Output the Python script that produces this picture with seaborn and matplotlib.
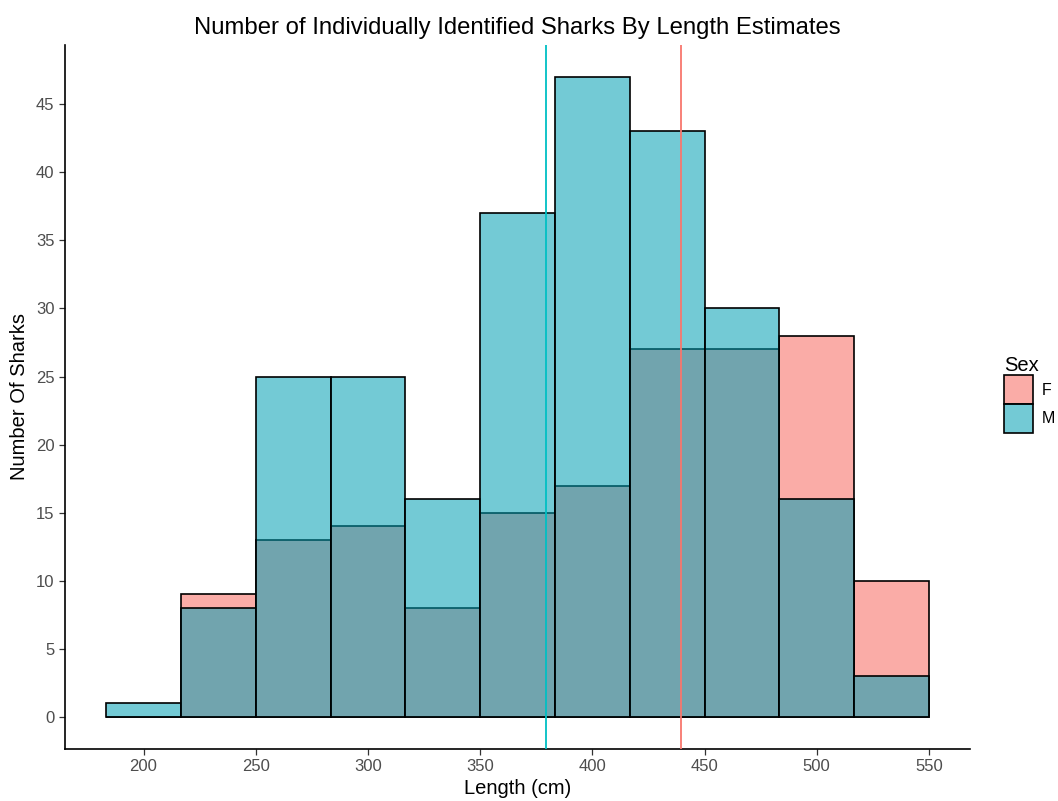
import numpy as np
import matplotlib as mpl
from matplotlib import pyplot as plt
import seaborn as sns
import pandas as pd

sns.set_style("ticks")
plt.rcParams['font.family'] = ['Liberation Sans', 'DejaVu Sans']
plt.rcParams['text.color'] = 'black'
plt.rcParams['axes.labelcolor'] = 'black'

# binned counts (11 bins, width 33.3 cm)
bin_edges = np.linspace(183.333, 550, 12)
bin_centers = (bin_edges[:-1] + bin_edges[1:]) / 2
female_counts = [0, 9, 13, 14, 8, 15, 17, 27, 27, 28, 10]
male_counts = [1, 8, 25, 25, 16, 37, 47, 43, 30, 16, 3]
mean_lengths = {'F': 439.5, 'M': 379.2}

df = pd.concat([
    pd.DataFrame({'length': bin_centers, 'count': female_counts, 'Sex': 'F'}),
    pd.DataFrame({'length': bin_centers, 'count': male_counts, 'Sex': 'M'}),
], ignore_index=True)

fill = {'F': '#F8766D', 'M': '#009FB4'}
alphas = {'F': 0.6, 'M': 0.55}
line = {'F': '#F8766D', 'M': '#00BFC4'}

fig = plt.figure(figsize=(10.58, 8.01), dpi=100)
ax = fig.add_axes([65/1058, 52/801, 905/1058, 704/801])

# seaborn stacks later hue levels underneath, so list M first to get it on top
g = sns.histplot(data=df, x='length', weights='count', hue='Sex', bins=11,
                 binrange=(bin_edges[0], bin_edges[-1]),
                 multiple='layer', palette=fill, alpha=0.6, edgecolor='black',
                 linewidth=1.2, ax=ax, hue_order=['M', 'F'], legend=False)

# solid black outlines, per-sex fill alpha
m_rgb = np.array(mpl.colors.to_rgb(fill['M']))
for p in ax.patches:
    fc = p.get_facecolor()
    a = alphas['M'] if np.allclose(fc[:3], m_rgb, atol=0.01) else alphas['F']
    p.set_alpha(None)
    p.set_facecolor((fc[0], fc[1], fc[2], a))
    p.set_edgecolor('black')

for sex, m in mean_lengths.items():
    ax.axvline(m, color=line[sex], lw=1.3, zorder=5)

ax.set_xlim(165, 568.3)
ax.set_ylim(-2.35, 49.35)
ax.set_xticks(range(200, 551, 50))
ax.set_yticks(range(0, 46, 5))
ax.tick_params(colors='#333333', labelcolor='#4D4D4D', labelsize=12, length=4, width=0.9)
for s in ['top', 'right']:
    ax.spines[s].set_visible(False)
for s in ['left', 'bottom']:
    ax.spines[s].set_linewidth(1.2)
    ax.spines[s].set_color('black')

ax.set_xlabel('Length (cm)', fontsize=14.5, labelpad=3)
ax.set_ylabel('Number Of Sharks', fontsize=14.5, labelpad=5)
ax.set_title('Number of Individually Identified Sharks By Length Estimates', fontsize=17.2, pad=8)

handles = [mpl.patches.Patch(facecolor=mpl.colors.to_rgba(fill[k], alphas[k]), edgecolor='black', linewidth=1.2)
           for k in ['F', 'M']]
fig.legend(handles, ['F', 'M'], title='Sex', loc='upper left', bbox_to_anchor=(993/1058, 1 - 345/801),
           frameon=False, fontsize=11.5, title_fontsize=14.5, handlelength=1.8, handleheight=2.4,
           handletextpad=0.55, labelspacing=0.0, alignment='left', borderpad=0.2)

fig.savefig('out.png', dpi=100)
